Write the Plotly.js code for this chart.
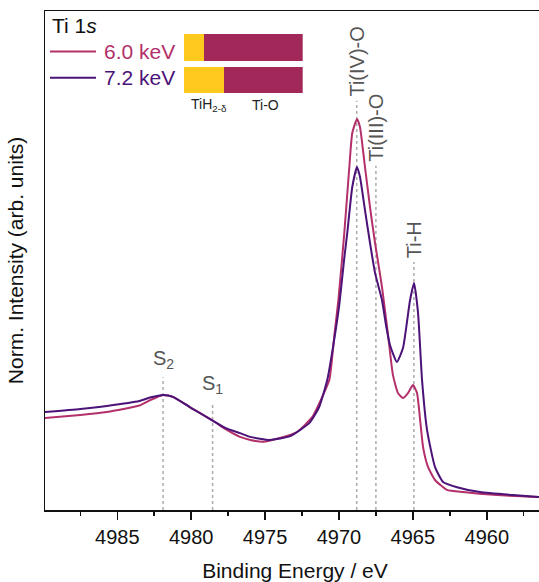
<!DOCTYPE html>
<html>
<head>
<meta charset="utf-8">
<script src="https://cdn.plot.ly/plotly-3.0.1.min.js"></script>
<style>
html,body{margin:0;padding:0;overflow:hidden;background:#fff;width:539px;height:582px;}
#chart{width:545px;height:582px;}
</style>
</head>
<body>
<div id="chart"></div>
<script>
// ---- data ----
const energy60 = [4989.9, 4987.5, 4985.7, 4983.5, 4982.79, 4981.9, 4981.23, 4980.1, 4978.5, 4977.7, 4976.7, 4976.0, 4975.14, 4974.0, 4972.84, 4971.8, 4971.13, 4970.65, 4970.31, 4970.04, 4969.64, 4969.3, 4969.1, 4968.78, 4968.58, 4968.24, 4967.9, 4967.56, 4967.09, 4966.68, 4966.35, 4966.01, 4965.67, 4965.33, 4964.99, 4964.72, 4964.51, 4964.31, 4963.97, 4963.5, 4962.69, 4961.61, 4959.31, 4956.47];
const int60 = [0.209, 0.217, 0.225, 0.242, 0.256, 0.270, 0.265, 0.238, 0.201, 0.180, 0.159, 0.151, 0.146, 0.156, 0.172, 0.212, 0.265, 0.310, 0.429, 0.521, 0.698, 0.873, 0.963, 1.000, 0.979, 0.873, 0.767, 0.672, 0.556, 0.429, 0.323, 0.275, 0.262, 0.275, 0.296, 0.275, 0.204, 0.132, 0.079, 0.045, 0.019, 0.013, 0.005, 0.000];

const energy72 = [4989.9, 4987.5, 4985.7, 4983.5, 4982.79, 4981.9, 4981.23, 4980.1, 4978.5, 4977.7, 4976.7, 4976.0, 4974.67, 4973.3, 4972.0, 4971.34, 4970.79, 4970.38, 4969.98, 4969.64, 4969.44, 4969.1, 4968.78, 4968.58, 4968.24, 4967.9, 4967.56, 4967.09, 4966.82, 4966.55, 4966.08, 4965.67, 4965.19, 4964.92, 4964.65, 4964.38, 4964.04, 4963.5, 4962.96, 4962.01, 4960.46, 4958.23, 4956.47];
const int72 = [0.225, 0.233, 0.241, 0.254, 0.263, 0.270, 0.265, 0.238, 0.201, 0.183, 0.169, 0.159, 0.151, 0.161, 0.196, 0.238, 0.310, 0.402, 0.508, 0.632, 0.698, 0.820, 0.873, 0.847, 0.759, 0.672, 0.593, 0.521, 0.455, 0.402, 0.357, 0.394, 0.521, 0.566, 0.487, 0.310, 0.177, 0.079, 0.040, 0.026, 0.013, 0.005, 0.000];

const seriesNames = ['6.0 keV', '7.2 keV'];

const peakLabels = ['S<sub>2</sub>', 'S<sub>1</sub>', 'Ti(IV)-O', 'Ti(III)-O', 'Ti-H'];
const peakEnergies = [4981.9, 4978.55, 4968.8, 4967.5, 4964.93];
const peakLineTops = [0.317, 0.251, 1.048, 0.876, 0.622];

const phaseCategories = ['6.0 keV', '7.2 keV'];
const fracTiH = [0.17, 0.34];
const fracTiO = [0.83, 0.66];
const phaseLabels = ['TiH<sub>2-δ</sub>', 'Ti-O'];

const xTickVals = [4985, 4980, 4975, 4970, 4965, 4960];

// ---- styling ----
const RED = '#B3306A';
const PURPLE = '#4B1278';
const BAR_RED = '#A3285A';
const YELLOW = '#FFCA1E';
const FONT = 'Liberation Sans, Arial, sans-serif';
const X_RANGE = [4989.89, 4956.06];
const Y_RANGE = [-0.0344, 1.2857];

const traces = [
  {x: energy60, y: int60, type: 'scatter', mode: 'lines', name: seriesNames[0],
   line: {color: RED, width: 2, shape: 'spline', smoothing: 0.5}, xaxis: 'x', yaxis: 'y'},
  {x: energy72, y: int72, type: 'scatter', mode: 'lines', name: seriesNames[1],
   line: {color: PURPLE, width: 2, shape: 'spline', smoothing: 0.5}, xaxis: 'x', yaxis: 'y'},
  {y: phaseCategories, x: fracTiH, type: 'bar', orientation: 'h', name: 'TiH',
   marker: {color: YELLOW}, xaxis: 'x2', yaxis: 'y2', hoverinfo: 'skip'},
  {y: phaseCategories, x: fracTiO, type: 'bar', orientation: 'h', name: 'Ti-O',
   marker: {color: BAR_RED}, xaxis: 'x2', yaxis: 'y2', hoverinfo: 'skip'}
];

const shapes = [];
const annotations = [];
peakEnergies.forEach((e, i) => {
  shapes.push({type: 'line', xref: 'x', yref: 'y', x0: e, x1: e, y0: Y_RANGE[0], y1: peakLineTops[i],
    line: {color: '#ababab', width: 1.5, dash: 'dot'}, layer: 'below'});
  const rotated = i >= 2;
  annotations.push({x: e, y: peakLineTops[i], xref: 'x', yref: 'y', text: peakLabels[i],
    showarrow: false, xanchor: 'center', yanchor: 'bottom', yshift: rotated ? 2 : 3,
    textangle: rotated ? -90 : 0,
    font: {family: FONT, size: 20, color: '#555555'}});
});

// legend (drawn manually to match the reference layout)
const legendColors = [RED, PURPLE];
const legendY = [0.9188, 0.8663];
seriesNames.forEach((n, i) => {
  shapes.push({type: 'line', xref: 'paper', yref: 'paper', x0: 0.01, x1: 0.102, y0: legendY[i], y1: legendY[i],
    line: {color: legendColors[i], width: 2}});
  annotations.push({x: 0.114, y: legendY[i], xref: 'paper', yref: 'paper', text: n, showarrow: false,
    xanchor: 'left', yanchor: 'middle', font: {family: FONT, size: 21, color: legendColors[i]}});
});
annotations.push({x: 0.0095, y: 0.971, xref: 'paper', yref: 'paper', text: 'Ti 1<i>s</i>', showarrow: false,
  xanchor: 'left', yanchor: 'middle', font: {family: FONT, size: 21, color: '#111111'}});

// inset labels
annotations.push({x: 0.328, y: 0.812, xref: 'paper', yref: 'paper', text: phaseLabels[0], showarrow: false,
  xanchor: 'center', yanchor: 'middle', font: {family: FONT, size: 14, color: '#222222'}});
annotations.push({x: 0.441, y: 0.812, xref: 'paper', yref: 'paper', text: phaseLabels[1], showarrow: false,
  xanchor: 'center', yanchor: 'middle', font: {family: FONT, size: 14, color: '#222222'}});

const layout = {
  width: 545, height: 582,
  margin: {l: 45, r: 0, t: 11, b: 72, pad: 0},
  paper_bgcolor: '#ffffff', plot_bgcolor: '#ffffff',
  font: {family: FONT, size: 20, color: '#111111'},
  showlegend: false,
  barmode: 'stack', bargap: 0.175,
  xaxis: {
    range: X_RANGE, autorange: false, showgrid: false, zeroline: false,
    showline: true, linecolor: '#111111', linewidth: 1.5, mirror: true,
    ticks: 'outside', ticklen: 8, tickwidth: 1.5, tickcolor: '#111111',
    tickvals: xTickVals, ticktext: xTickVals.map(String),
    minor: {dtick: 2.5, tick0: 4960, ticks: 'outside', ticklen: 4, tickwidth: 1.5, tickcolor: '#111111', showgrid: false},
    tickfont: {family: FONT, size: 20, color: '#111111'},
    title: {text: 'Binding Energy / eV', font: {family: FONT, size: 21, color: '#111111'}, standoff: 17},
    automargin: false
  },
  yaxis: {
    range: Y_RANGE, autorange: false, showgrid: false, zeroline: false,
    showline: true, linecolor: '#111111', linewidth: 1.5, mirror: true,
    ticks: '', showticklabels: false,
    title: {text: 'Norm. Intensity (arb. units)', font: {family: FONT, size: 21, color: '#111111'}, standoff: 14},
    automargin: false
  },
  xaxis2: {domain: [0.278, 0.5154], range: [0, 1], anchor: 'y2', visible: false, fixedrange: true},
  yaxis2: {domain: [0.829, 0.9594], anchor: 'x2', visible: false, autorange: 'reversed', type: 'category', fixedrange: true},
  shapes: shapes,
  annotations: annotations
};

Plotly.newPlot('chart', traces, layout, {displayModeBar: false, staticPlot: true});
</script>
</body>
</html>
